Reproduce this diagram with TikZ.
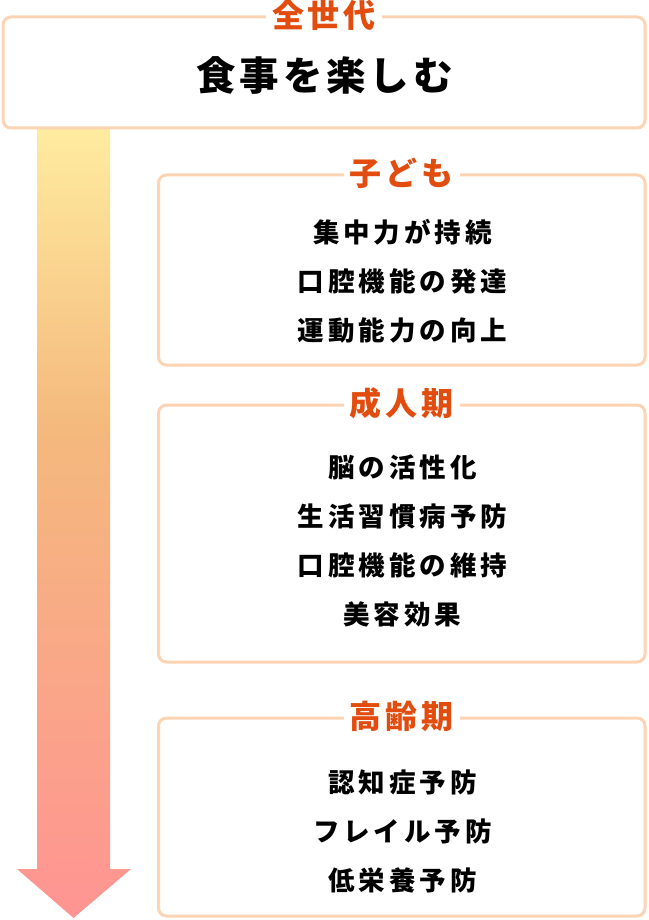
\documentclass[tikz,border=0pt]{standalone}
\usepackage{fontspec}
\usepackage{xcolor}
\usetikzlibrary{positioning,calc}
\newfontfamily\jpfont{Noto Sans CJK JP}
\definecolor{framepeach}{RGB}{252,212,180}
\definecolor{titleorange}{RGB}{226,76,14}
\definecolor{arrowyellow}{RGB}{255,236,160}
\definecolor{arroworange}{RGB}{244,185,125}
\definecolor{arrowpink}{RGB}{255,148,146}
\pgfdeclareverticalshading{lifeshade}{100bp}{color(0bp)=(arrowpink); color(25bp)=(arrowpink); color(56bp)=(arroworange); color(75bp)=(arrowyellow); color(100bp)=(arrowyellow)}

\begin{document}
\begin{tikzpicture}[x=1pt, y=-1pt,
    agebox/.style={draw=framepeach, line width=3pt, rounded corners=8pt, fill=white, inner sep=0pt},
    agetitle/.style={fill=white, text=titleorange, inner xsep=6pt, inner ysep=0pt, font=\jpfont\bfseries\addfontfeatures{LetterSpace=12}\fontsize{32}{36}\selectfont},
    agetext/.style={align=center, inner sep=0pt, font=\jpfont\bfseries\addfontfeatures{LetterSpace=15}\fontsize{26.5}{49}\selectfont}]
\useasboundingbox (0,0) rectangle (648,920);

% Life-stage arrow (gradient)
\path[shading=lifeshade] (37,126) -- (110,126) -- (110,869) -- (131,869) -- (73.5,918) -- (17,869) -- (37,869) -- cycle;

% Top box: all generations
\node[agebox, minimum width=642pt, minimum height=111pt] (boxall) at (324,72.5) {};
\node[agetitle] (titleall) at (boxall.north) {全世代};
\node[inner sep=0pt, font=\jpfont\bfseries\addfontfeatures{LetterSpace=10}\fontsize{39.5}{44}\selectfont] (textall) at (324.5,75) {食事を楽しむ};

% Age-stage boxes
\foreach \y/\h/\ty/\name/\title/\items in {
    270/190/281/child/子ども/{集中力が持続\\口腔機能の発達\\運動能力の向上},
    533.5/257/541/adult/成人期/{脳の活性化\\生活習慣病予防\\口腔機能の維持\\美容効果},
    817/198/831/elder/高齢期/{認知症予防\\フレイル予防\\低栄養予防}} {
    \node[agebox, minimum width=486.5pt, minimum height=\h pt] (box\name) at (401.75,\y) {};
    \node[agetitle] (title\name) at (box\name.north) {\title};
    \node[agetext] (text\name) at (402.5,\ty) {\items};
}

\end{tikzpicture}
\end{document}
